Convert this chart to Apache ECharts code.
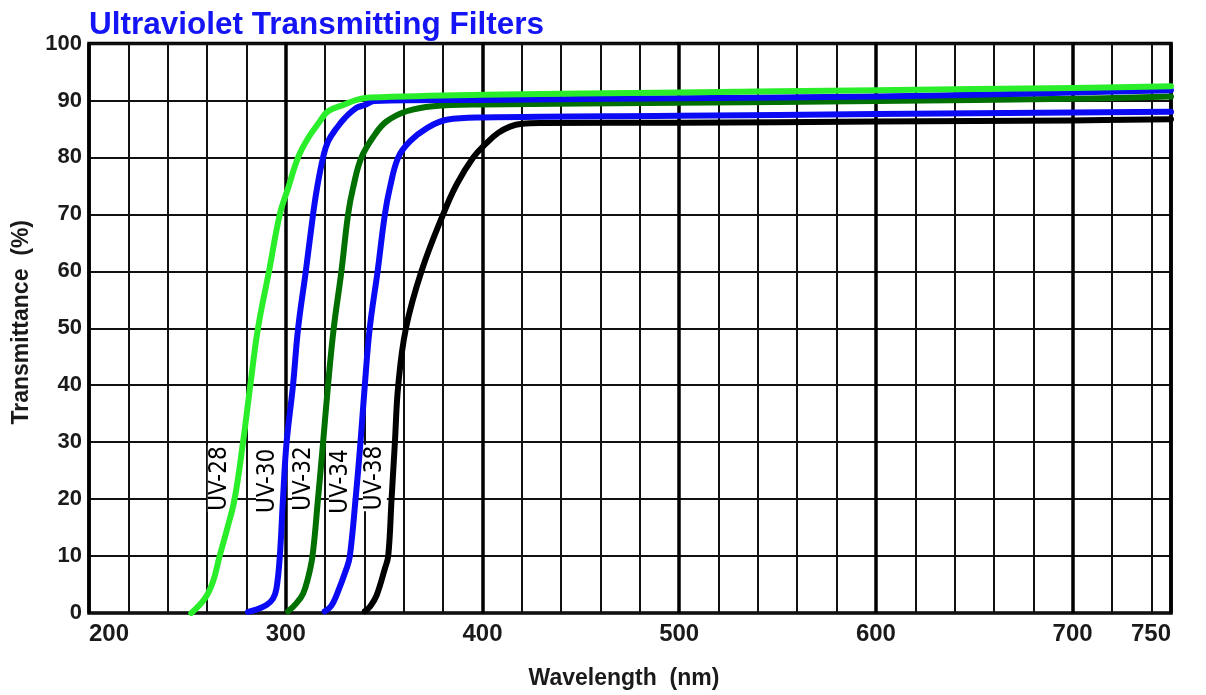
<!DOCTYPE html>
<html>
<head>
<meta charset="utf-8">
<style>
  html, body { margin: 0; padding: 0; background: #fff; }
  #chart { width: 1206px; height: 695px; }
</style>
<script src="https://cdn.jsdelivr.net/npm/echarts@6/dist/echarts.min.js"></script>
</head>
<body>
<div id="chart"></div>
<script>
// ---- Data ----
var titleText = 'Ultraviolet Transmitting Filters';
var xAxisName = 'Wavelength  (nm)';
var yAxisName = 'Transmittance  (%)';

var seriesNames = ['UV-28', 'UV-30', 'UV-32', 'UV-34', 'UV-38'];

var uv28Wl = [252, 258.8, 263, 266.4, 270, 274, 278.3, 282, 285.9, 291.5, 297, 301.2, 306.3, 311.4, 317.3, 321.5, 329.2, 336, 342.7, 400, 500, 600, 700, 750];
var uv28T  = [0, 2.5, 5.5, 10, 14.5, 20, 30, 40, 50, 60, 70, 74.6, 80, 83.4, 86.3, 88.1, 89.2, 90.1, 90.5, 91.0, 91.4, 91.8, 92.2, 92.5];

var uv30Wl = [280.8, 285, 290.2, 293.5, 295.3, 297, 298.6, 300.4, 303.7, 306.3, 310.2, 313.9, 315.9, 319, 321.5, 325.8, 330, 336, 340.2, 345, 400, 500, 600, 650, 700, 750];
var uv30T  = [0.2, 0.6, 1.4, 2.5, 4.3, 10, 20, 29.8, 40, 50, 60, 70, 74.6, 80, 82.8, 85.1, 86.9, 88.7, 89.2, 89.9, 90.1, 90.4, 90.7, 91.0, 91.4, 91.8];

var uv32Wl = [301.2, 305.4, 308.8, 311.3, 313.6, 316.4, 319, 321.5, 324.4, 328.3, 331.7, 334.2, 338.5, 345.3, 351.2, 361.4, 375, 400, 500, 600, 700, 750];
var uv32T  = [0.3, 1.7, 3.4, 6.1, 10, 20, 30, 40, 50, 60, 70, 74.6, 80, 84, 86.3, 88.1, 89.0, 89.3, 89.6, 89.9, 90.3, 90.7];

var uv34Wl = [319.8, 323, 325.8, 330.9, 332.6, 335.5, 338, 340.2, 342.7, 346.7, 350.4, 352.9, 357.2, 363.1, 371.6, 381.8, 400, 500, 600, 700, 750];
var uv34T  = [0.3, 1.2, 3.1, 7.8, 10, 20, 30, 40, 50, 60, 70, 74.6, 80, 82.8, 85.1, 86.6, 87.0, 87.3, 87.6, 87.9, 88.0];

var uv38Wl = [340.2, 343, 346.2, 350.4, 352.1, 353.8, 355.5, 357.2, 361.1, 369, 380, 386.8, 395.3, 402, 408, 414, 420, 430, 500, 600, 700, 750];
var uv38T  = [0.3, 1.2, 3.1, 7.8, 10, 20, 30, 40, 50, 60, 70, 75.2, 80, 82.5, 84.3, 85.4, 85.9, 86.05, 86.1, 86.3, 86.5, 86.7];

// label anchor positions (wavelength, transmittance) for the rotated curve names
var labelWl = [266.5, 291, 309.4, 328, 345.3];
var labelT  = [23.6, 23.2, 23.6, 23.1, 23.7];

var xMin = 200, xMax = 750, xMinorStep = 20, xMajorStep = 100;
var yMin = 0, yMax = 100, yStep = 10;

// ---- Styles ----
var colors = ['#2aee2a', '#0a0af5', '#007000', '#0a0af5', '#000000'];

function pairs(xs, ys) {
  var out = [];
  for (var i = 0; i < xs.length; i++) out.push([xs[i], ys[i]]);
  return out;
}

var curveData = [
  pairs(uv28Wl, uv28T),
  pairs(uv30Wl, uv30T),
  pairs(uv32Wl, uv32T),
  pairs(uv34Wl, uv34T),
  pairs(uv38Wl, uv38T)
];

var labelData = [];
for (var i = 0; i < seriesNames.length; i++) {
  labelData.push({ value: [labelWl[i], labelT[i]], name: seriesNames[i] });
}

var font = "'Liberation Sans', Arial, Helvetica, sans-serif";

// pick a narrow face for the curve names if one is installed
function hasFont(name) {
  var c = document.createElement('canvas').getContext('2d');
  var s = 'UV-28 abcdefghijklmnop WMW';
  c.font = '40px monospace';
  var w1 = c.measureText(s).width;
  c.font = "40px '" + name + "', monospace";
  var w2 = c.measureText(s).width;
  c.font = '40px serif';
  var w3 = c.measureText(s).width;
  c.font = "40px '" + name + "', serif";
  var w4 = c.measureText(s).width;
  return w1 !== w2 || w3 !== w4;
}
var labelFont = font, labelSize = 23;
if (hasFont('Liberation Sans Narrow')) { labelFont = "'Liberation Sans Narrow'"; labelSize = 28; }
else if (hasFont('DejaVu Sans Condensed')) { labelFont = "'DejaVu Sans Condensed'"; labelSize = 24; }

var chart = echarts.init(document.getElementById('chart'), null, { renderer: 'canvas' });

var drawOrder = [4, 3, 2, 1, 0];
var series = [{
  type: 'scatter',
  name: 'labels',
  z: 1,
  xAxisIndex: 0,
  yAxisIndex: 0,
  symbolSize: 0,
  silent: true,
  itemStyle: { opacity: 1 },
  data: labelData,
  label: {
    show: true,
    position: 'inside',
    rotate: 90,
    formatter: function (p) { return p.name; },
    fontFamily: labelFont,
    fontSize: labelSize,
    color: '#000',
    opacity: 1,
    textBorderWidth: 0,
    backgroundColor: '#fff',
    padding: [0, 1]
  }
}];
drawOrder.forEach(function (k) {
  series.push({
    type: 'line',
    name: seriesNames[k],
    z: 3,
    xAxisIndex: 0,
    yAxisIndex: 0,
    data: curveData[k],
    showSymbol: false,
    symbol: 'none',
    smooth: 0.4,
    lineStyle: { color: colors[k], width: 6, cap: 'round', join: 'round' },
    itemStyle: { color: colors[k] }
  });
});

var option = {
  animation: false,
  backgroundColor: '#ffffff',
  title: {
    text: titleText,
    left: 84,
    top: 4,
    textStyle: { fontFamily: font, fontSize: 31.5, fontWeight: 'bold', color: '#1414f5' }
  },
  grid: {
    left: 89, right: 35, top: 43.5, bottom: 80.5,
    show: true, borderColor: '#000', borderWidth: 3.5, backgroundColor: '#fff'
  },
  xAxis: [{
    type: 'value',
    position: 'bottom',
    min: xMin, max: xMax, interval: xMinorStep,
    axisLine: { show: false },
    axisTick: { show: false },
    axisLabel: { show: false },
    splitLine: { show: true, lineStyle: { color: '#111', width: 2 } }
  }, {
    type: 'value',
    position: 'bottom',
    min: xMin, max: xMax, interval: xMajorStep,
    name: xAxisName,
    nameLocation: 'middle',
    nameGap: 54,
    nameTextStyle: { fontFamily: font, fontSize: 23, fontWeight: 'bold', color: '#1a1a1a', padding: [0, 12, 0, 0] },
    axisLine: { show: false },
    axisTick: { show: false },
    axisLabel: {
      show: true, margin: 9, fontFamily: font, fontSize: 24, fontWeight: 'bold', color: '#1a1a1a',
      alignMinLabel: 'left', alignMaxLabel: 'right', showMinLabel: true, showMaxLabel: true
    },
    splitLine: { show: true, lineStyle: { color: '#000', width: 3.5 } }
  }],
  yAxis: [{
    type: 'value',
    min: yMin, max: yMax, interval: yStep,
    name: yAxisName,
    nameLocation: 'middle',
    nameGap: 56,
    nameRotate: 90,
    nameTextStyle: { fontFamily: font, fontSize: 23, fontWeight: 'bold', color: '#1a1a1a', padding: [0, 0, 0, 12] },
    axisLine: { show: false },
    axisTick: { show: false },
    axisLabel: { show: true, margin: 7, fontFamily: font, fontSize: 22, fontWeight: 'bold', color: '#1a1a1a' },
    splitLine: { show: true, lineStyle: { color: '#111', width: 2 } }
  }],
  series: series
};

chart.setOption(option);
</script>
</body>
</html>
